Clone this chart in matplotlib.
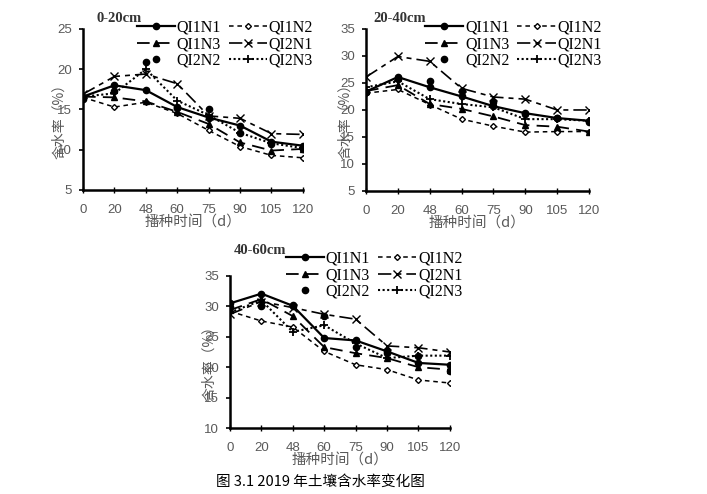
import matplotlib.pyplot as plt

plt.rcParams['font.family'] = ['Liberation Serif', 'Noto Sans CJK SC', 'DejaVu Sans']

# data
days = ['0', '20', '48', '60', '75', '90', '105', '120']
names = ['QI1N1', 'QI1N2', 'QI1N3', 'QI2N1', 'QI2N2', 'QI2N3']

d0_20 = {
    'QI1N1': [16.6, 18.0, 17.4, 15.3, 14.0, 13.0, 11.0, 10.5],
    'QI1N2': [16.5, 15.3, 15.9, 14.5, 12.4, 10.4, 9.3, 9.0],
    'QI1N3': [16.6, 16.5, 16.0, 14.7, 13.2, 10.9, 9.9, 10.1],
    'QI2N1': [16.9, 19.1, 19.4, 18.2, 14.2, 13.9, 12.0, 11.9],
    'QI2N2': [16.3, 17.3, 20.9, 15.2, 15.0, 12.1, 10.7, 10.1],
    'QI2N3': [16.6, 17.0, 20.0, 16.1, 14.3, 12.1, 10.8, 10.2],
}
d20_40 = {
    'QI1N1': [23.4, 26.1, 24.2, 22.5, 20.7, 19.4, 18.5, 18.0],
    'QI1N2': [23.1, 23.8, 21.0, 18.3, 17.0, 15.9, 16.0, 16.0],
    'QI1N3': [23.5, 24.6, 21.1, 20.2, 18.8, 17.2, 16.9, 16.0],
    'QI2N1': [26.1, 29.9, 29.0, 24.0, 22.4, 22.0, 20.0, 20.0],
    'QI2N2': [23.3, 25.7, 25.4, 23.6, 21.5, 19.3, 18.6, 17.8],
    'QI2N3': [24.2, 25.3, 22.0, 21.1, 20.5, 18.3, 18.3, 18.0],
}
d40_60 = {
    'QI1N1': [30.5, 32.1, 30.1, 24.8, 24.4, 22.6, 20.7, 20.4],
    'QI1N2': [29.2, 27.6, 26.6, 22.6, 20.4, 19.6, 17.9, 17.4],
    'QI1N3': [29.4, 31.2, 28.4, 23.3, 22.3, 21.5, 20.0, 19.6],
    'QI2N1': [28.7, 30.8, 29.8, 28.7, 27.9, 23.5, 23.2, 22.5],
    'QI2N2': [29.9, 30.1, 30.2, 28.4, 23.4, 22.3, 21.9, 19.4],
    'QI2N3': [29.0, 31.0, 25.8, 26.9, 23.9, 21.5, 21.9, 21.9],
}

styles = {
    'QI1N1': dict(ls='-', lw=1.6, marker='o', ms=4.5, mfc='black'),
    'QI1N2': dict(ls=(0, (3, 2.5)), lw=1.1, marker='D', ms=3, mfc='white'),
    'QI1N3': dict(ls=(0, (7, 4)), lw=1.3, marker='^', ms=4, mfc='black'),
    'QI2N1': dict(ls=(0, (8, 3, 3, 3)), lw=1.2, marker='x', ms=6, mew=1.0),
    'QI2N2': dict(ls='none', marker='o', ms=4.5, mfc='black'),
    'QI2N3': dict(ls=(0, (1, 1.2)), lw=1.5, marker='+', ms=6, mew=1.3),
}
# legend is filled row by row in the reference
leg_order = ['QI1N1', 'QI1N3', 'QI2N2', 'QI1N2', 'QI2N1', 'QI2N3']

grey = '#595959'
fig = plt.figure(figsize=(7.07, 4.94), dpi=100)

panels = [
    ('0-20cm', d0_20, (5, 25), [0.1174, 0.6154, 0.311, 0.326], (0.443, 0.960), (0.136, 0.962), 0.084),
    ('20-40cm', d20_40, (5, 35), [0.5177, 0.6134, 0.3154, 0.328], (0.851, 0.960), (0.528, 0.962), 0.488),
    ('40-60cm', d40_60, (10, 35), [0.3253, 0.1336, 0.311, 0.3077], (0.654, 0.492), (0.33, 0.492), 0.296),
]

for title, data, ylim, pos, legpos, titlepos, ylabx in panels:
    ax = fig.add_axes(pos)
    x = list(range(len(days)))
    handles = {}
    for n in names:
        handles[n], = ax.plot(x, data[n], color='black', mec='black', label=n, **styles[n])
    ax.set_xlim(0, len(days) - 1)
    ax.set_ylim(*ylim)
    ax.set_yticks(range(ylim[0], ylim[1] + 1, 5))
    ax.set_xticks(x)
    ax.set_xticklabels(days)
    for s in ['top', 'right']:
        ax.spines[s].set_visible(False)
    for s in ['left', 'bottom']:
        ax.spines[s].set_linewidth(1.8)
    ax.tick_params(axis='y', direction='out', length=3, width=1.2, colors='black',
                   labelcolor=grey, labelsize=9.5, pad=5)
    ax.tick_params(axis='x', direction='inout', length=4, width=1.0, colors='black',
                   labelcolor=grey, labelsize=9.5, pad=8)
    for lab in ax.get_xticklabels() + ax.get_yticklabels():
        lab.set_family(['Liberation Sans', 'DejaVu Sans'])
    ax.set_xlabel('播种时间（d）', color=grey, fontsize=10.5,
                  family=['Noto Sans CJK SC', 'DejaVu Sans'], labelpad=0)
    fig.text(ylabx, pos[1] + pos[3] * 0.45, '含水率（%）', rotation=90, color=grey,
             fontsize=10, family=['Noto Sans CJK SC', 'DejaVu Sans'],
             ha='center', va='center')
    fig.text(titlepos[0], titlepos[1], title, fontsize=10.5, fontweight='bold',
             ha='left', va='center', color='#333333')
    ax.legend([handles[n] for n in leg_order], leg_order,
              loc='upper right', bbox_to_anchor=legpos, bbox_transform=fig.transFigure,
              ncol=2, frameon=False, fontsize=11.5, handlelength=2.4,
              labelspacing=0.03, columnspacing=0.5, handletextpad=0.1,
              borderpad=0, borderaxespad=0)

fig.text(0.453, 0.024, '图 3.1 2019 年土壤含水率变化图', ha='center', va='center',
         fontsize=10.5, family=['Noto Sans CJK SC', 'DejaVu Sans'])

fig.savefig('out.png', dpi=100)
